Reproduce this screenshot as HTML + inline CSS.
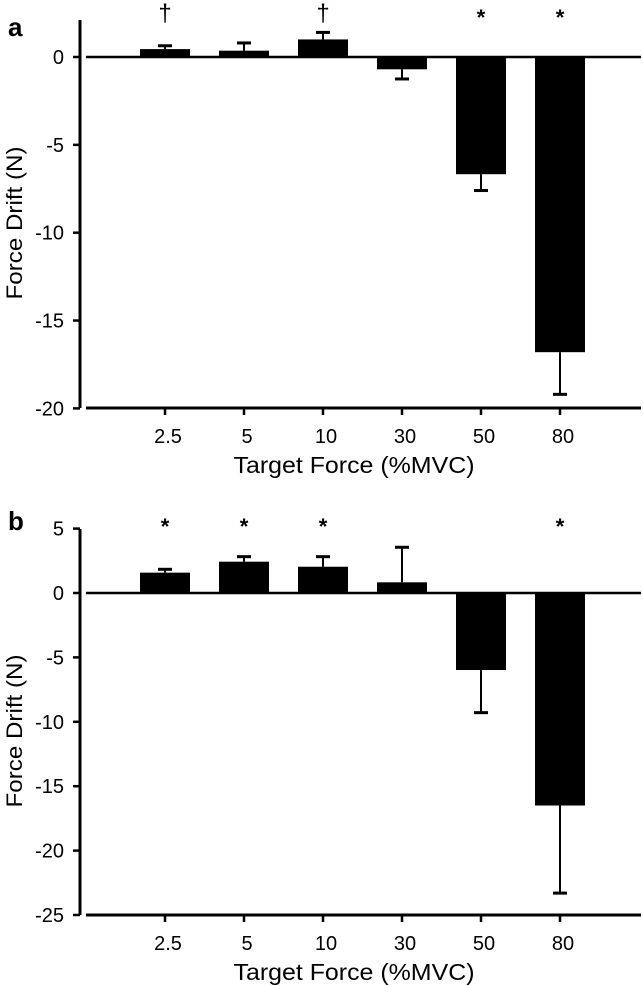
<!DOCTYPE html>
<html><head><meta charset="utf-8"><style>
body{margin:0;background:#fff}
svg{display:block;font-family:"Liberation Sans",Arial,sans-serif}
</style></head><body>
<svg id="chart" width="643" height="986"></svg>
<script>
const categories=["2.5","5","10","30","50","80"];
const valuesA=[0.45,0.36,1.0,-0.7,-6.67,-16.8];
const errLimA=[0.64,0.8,1.4,-1.25,-7.6,-19.2];
const marksA=["†","","†","","*","*"];
const ticksA=[0,-5,-10,-15,-20];
const valuesB=[1.58,2.43,2.04,0.83,-5.98,-16.5];
const errLimB=[1.84,2.82,2.82,3.55,-9.29,-23.3];
const marksB=["*","*","*","","","*"];
const ticksB=[5,0,-5,-10,-15,-20,-25];

const NS="http://www.w3.org/2000/svg";
const svg=document.getElementById('chart');
function mk(tag,attrs,parent){const e=document.createElementNS(NS,tag);for(const k in attrs)e.setAttribute(k,attrs[k]);(parent||svg).appendChild(e);return e;}
const xC=i=>165+i*79;

function panel(cfg){
  const g=mk('g',{});
  
  
  const y=v=>cfg.y0-v*cfg.k;
  const lab=mk('text',{x:8,y:cfg.labY,'font-size':26,'font-weight':'bold'},g);
  lab.textContent=cfg.letter;
  
  
  const ya=mk('line',{x1:80,x2:80,y1:cfg.yTop,y2:cfg.yBot,stroke:'#000','stroke-width':3},g);
  
  
  cfg.ticks.forEach(t=>{
    mk('line',{x1:73,x2:80,y1:y(t),y2:y(t),stroke:'#000','stroke-width':2.5},g);
    const tx=mk('text',{x:64,y:y(t)+7,'font-size':20,'text-anchor':'end'},g);
    tx.textContent=t;
    
    
  });
  const yt=mk('text',{x:0,y:0,'font-size':22,'text-anchor':'middle',textLength:153,lengthAdjust:'spacingAndGlyphs',transform:`translate(22,${(cfg.yTop+cfg.yBot)/2+9}) rotate(-90)`},g);
  yt.textContent='Force Drift (N)';
  
  
  const xa=mk('line',{x1:86,x2:641,y1:cfg.yBot,y2:cfg.yBot,stroke:'#000','stroke-width':3},g);
  
  
  categories.forEach((c,i)=>{
    mk('line',{x1:xC(i),x2:xC(i),y1:cfg.yBot,y2:cfg.yBot+7,stroke:'#000','stroke-width':2.5},g);
    const tx=mk('text',{x:xC(i)+3,y:cfg.yBot+35,'font-size':20,'text-anchor':'middle'},g);
    tx.textContent=c;
    
    
  });
  const xt=mk('text',{x:354,y:cfg.yBot+65,'font-size':23,'text-anchor':'middle',textLength:241,lengthAdjust:'spacingAndGlyphs'},g);
  xt.textContent='Target Force (%MVC)';
  
  
  cfg.values.forEach((v,i)=>{
    const top=Math.min(y(v),y(0)),h=Math.abs(y(v)-y(0));
    const r=mk('rect',{x:xC(i)-25,y:top,width:50,height:h,fill:'#000'},g);
    
    
    const e=mk('line',{x1:xC(i),x2:xC(i),y1:y(v),y2:y(cfg.err[i]),stroke:'#000','stroke-width':2},g);
    
    
    mk('line',{x1:xC(i)-7,x2:xC(i)+7,y1:y(cfg.err[i]),y2:y(cfg.err[i]),stroke:'#000','stroke-width':3},g);
    if(cfg.marks[i]){
      const star=cfg.marks[i]==='*';
      const m=mk('text',{x:xC(i),y:cfg.markY+(star?4:0),'font-size':star?22:24,'font-weight':star?'bold':'normal','text-anchor':'middle'},g);
      m.textContent=cfg.marks[i];
      
      
    }
  });
  const z=mk('line',{x1:86,x2:641,y1:y(0),y2:y(0),stroke:'#000','stroke-width':2.5},g);
  
  
}
panel({name:'panel-a',letter:'a',labY:36,y0:57,k:17.57,yTop:20,yBot:408,ticks:ticksA,values:valuesA,err:errLimA,marks:marksA,markY:21});
panel({name:'panel-b',letter:'b',labY:530,y0:593,k:12.88,yTop:529,yBot:915,ticks:ticksB,values:valuesB,err:errLimB,marks:marksB,markY:530});
</script>
</body></html>
